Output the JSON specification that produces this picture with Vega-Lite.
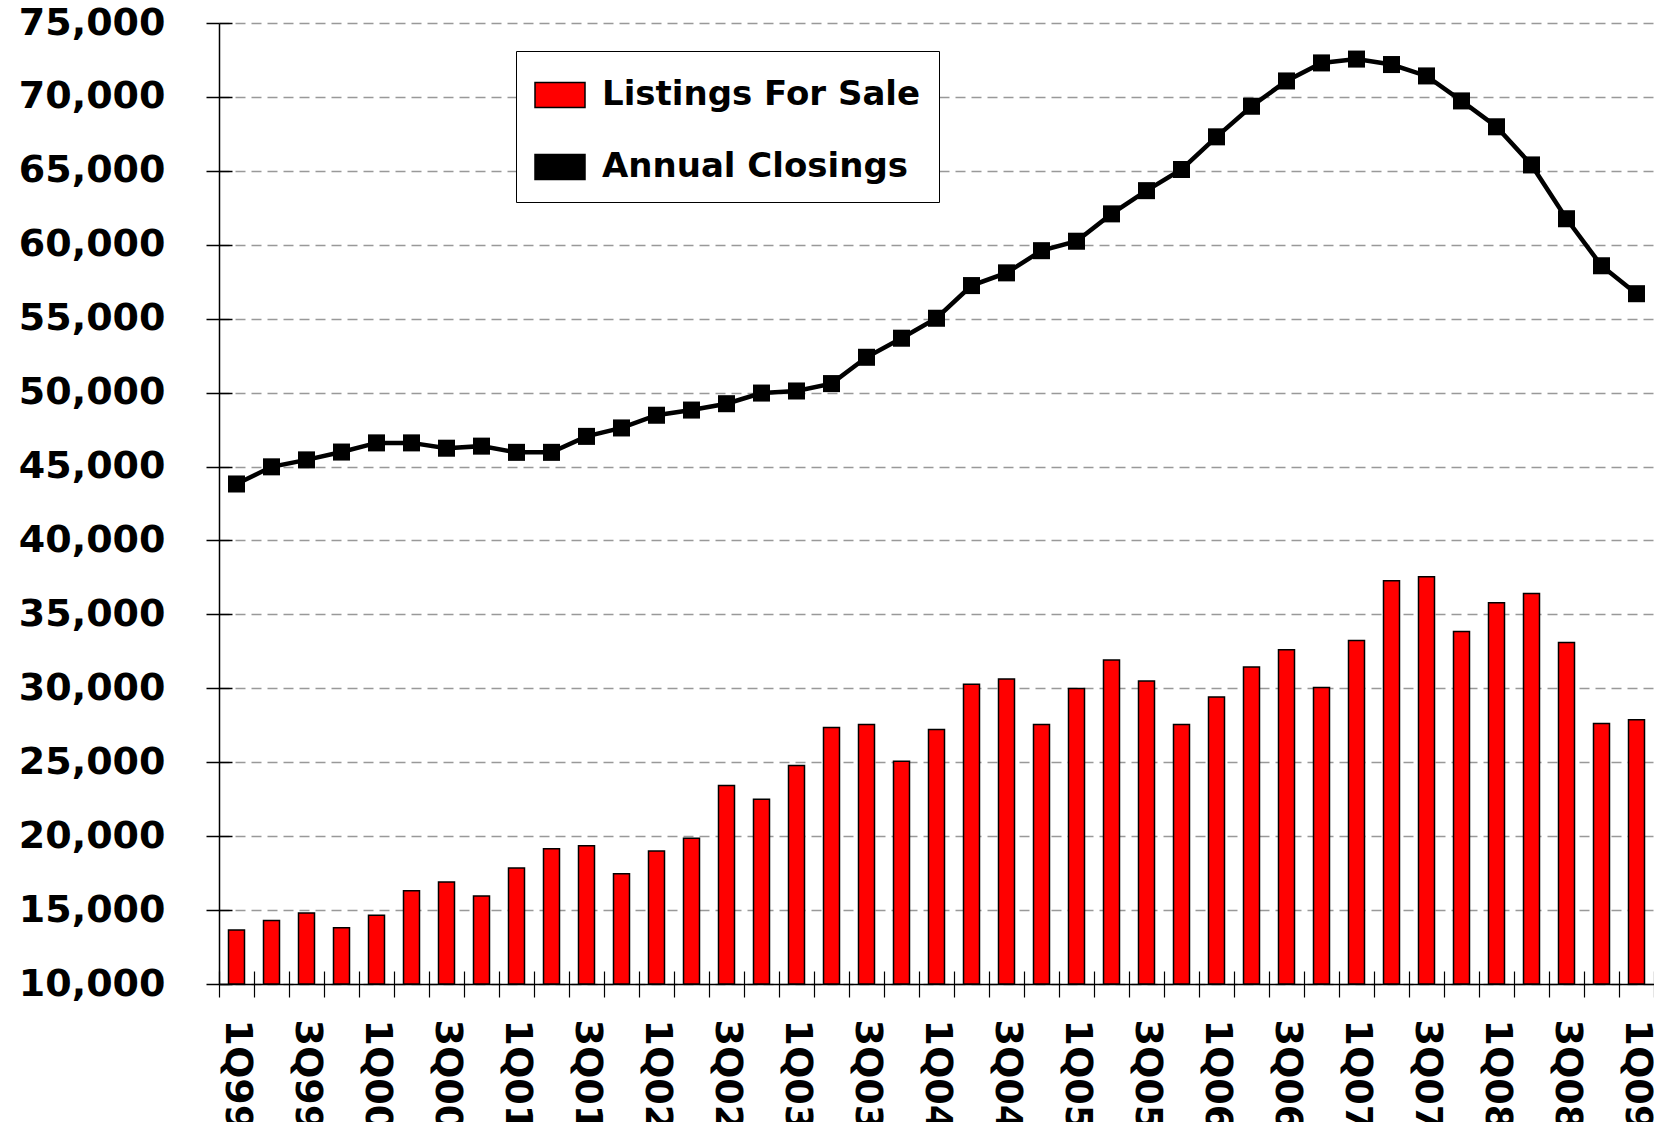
{
  "$schema": "https://vega.github.io/schema/vega-lite/v6.json",
  "autosize": {"type": "none"},
  "padding": {"left": 219, "top": 23, "right": 0, "bottom": 138},
  "width": 1435,
  "height": 961,
  "background": "white",
  "config": {
    "view": {"stroke": null},
    "font": "DejaVu Sans"
  },
  "data": {
    "values": [
      {"q": "1Q99", "listings": 13650, "closings": 43820},
      {"q": "2Q99", "listings": 14300, "closings": 44980},
      {"q": "3Q99", "listings": 14800, "closings": 45450},
      {"q": "4Q99", "listings": 13800, "closings": 45980},
      {"q": "1Q00", "listings": 14650, "closings": 46600},
      {"q": "2Q00", "listings": 16300, "closings": 46600},
      {"q": "3Q00", "listings": 16900, "closings": 46240},
      {"q": "4Q00", "listings": 15950, "closings": 46380},
      {"q": "1Q01", "listings": 17850, "closings": 45960},
      {"q": "2Q01", "listings": 19150, "closings": 45960},
      {"q": "3Q01", "listings": 19350, "closings": 47040},
      {"q": "4Q01", "listings": 17450, "closings": 47610},
      {"q": "1Q02", "listings": 19000, "closings": 48470},
      {"q": "2Q02", "listings": 19850, "closings": 48820},
      {"q": "3Q02", "listings": 23430, "closings": 49250},
      {"q": "4Q02", "listings": 22500, "closings": 49970},
      {"q": "1Q03", "listings": 24780, "closings": 50110},
      {"q": "2Q03", "listings": 27350, "closings": 50610},
      {"q": "3Q03", "listings": 27560, "closings": 52390},
      {"q": "4Q03", "listings": 25070, "closings": 53680},
      {"q": "1Q04", "listings": 27210, "closings": 55030},
      {"q": "2Q04", "listings": 30280, "closings": 57240},
      {"q": "3Q04", "listings": 30630, "closings": 58100},
      {"q": "4Q04", "listings": 27560, "closings": 59600},
      {"q": "1Q05", "listings": 29990, "closings": 60240},
      {"q": "2Q05", "listings": 31920, "closings": 62090},
      {"q": "3Q05", "listings": 30490, "closings": 63660},
      {"q": "4Q05", "listings": 27560, "closings": 65090},
      {"q": "1Q06", "listings": 29420, "closings": 67300},
      {"q": "2Q06", "listings": 31440, "closings": 69370},
      {"q": "3Q06", "listings": 32600, "closings": 71080},
      {"q": "4Q06", "listings": 30060, "closings": 72300},
      {"q": "1Q07", "listings": 33240, "closings": 72560},
      {"q": "2Q07", "listings": 37280, "closings": 72190},
      {"q": "3Q07", "listings": 37550, "closings": 71420},
      {"q": "4Q07", "listings": 33850, "closings": 69730},
      {"q": "1Q08", "listings": 35790, "closings": 67980},
      {"q": "2Q08", "listings": 36420, "closings": 65400},
      {"q": "3Q08", "listings": 33100, "closings": 61760},
      {"q": "4Q08", "listings": 27620, "closings": 58580},
      {"q": "1Q09", "listings": 27870, "closings": 56690}
    ]
  },
  "layer": [
    {
      "mark": {"type": "bar", "width": 16, "stroke": "black", "strokeWidth": 1.5},
      "encoding": {
        "x": {
          "field": "q", "type": "ordinal", "sort": null,
          "scale": {"paddingInner": 0, "paddingOuter": 0},
          "axis": {
            "orient": "bottom", "title": null, "labelAngle": 90,
            "labelExpr": "(indexof(datum.label, '2Q') == 0 || indexof(datum.label, '4Q') == 0) ? '' : datum.label",
            "tickBand": "extent", "tickSize": 13, "tickColor": "black", "tickWidth": 1.2,
            "domainColor": "black", "domainWidth": 1.5,
            "labelFont": "DejaVu Sans", "labelFontWeight": "bold", "labelFontSize": 38,
            "labelColor": "black", "labelPadding": 22, "labelOverlap": false, "grid": false
          }
        },
        "y": {
          "field": "listings", "type": "quantitative",
          "scale": {"domain": [10000, 75000], "nice": false, "zero": false},
          "axis": {
            "orient": "left", "title": null, "format": ",.0f",
            "values": [10000, 15000, 20000, 25000, 30000, 35000, 40000, 45000, 50000, 55000, 60000, 65000, 70000, 75000],
            "tickSize": 13, "tickColor": "black", "tickWidth": 1.5,
            "domainColor": "black", "domainWidth": 1.5,
            "labelFont": "DejaVu Sans", "labelFontWeight": "bold", "labelFontSize": 38,
            "labelColor": "black", "labelPadding": 41,
            "grid": true, "gridColor": "#999999", "gridDash": [10, 6], "gridWidth": 1.5
          }
        },
        "y2": {"datum": 10000},
        "color": {
          "datum": "Listings For Sale",
          "scale": {"domain": ["Listings For Sale", "Annual Closings"], "range": ["#FF0000", "#000000"]},
          "legend": {
            "title": null, "orient": "none", "legendX": 297, "legendY": 28,
            "padding": 18, "fillColor": "white", "strokeColor": "black",
            "cornerRadius": 0, "rowPadding": 29, "labelOffset": 16, "symbolSize": 2500,
            "symbolType": "M-1,-0.5L1,-0.5L1,0.5L-1,0.5Z",
            "symbolOpacity": 1,
            "labelFont": "DejaVu Sans", "labelFontWeight": "bold", "labelFontSize": 34,
            "labelColor": "black", "labelLimit": 0,
            "encode": {
              "symbols": {
                "stroke": {"value": "#000000"},
                "strokeWidth": {
                  "condition": {"test": "datum.value == 'Annual Closings'", "value": 0},
                  "value": 1.5
                }
              }
            }
          }
        }
      }
    },
    {
      "mark": {"type": "line", "color": "black", "strokeWidth": 4.5, "point": {"shape": "square", "size": 290, "filled": true, "color": "black"}},
      "encoding": {
        "x": {
          "field": "q", "type": "ordinal", "sort": null,
          "axis": {
            "orient": "bottom", "title": null, "labels": false, "domain": false, "grid": false,
            "tickBand": "extent", "tickSize": -13, "tickColor": "black", "tickWidth": 1.2
          }
        },
        "y": {
          "field": "closings", "type": "quantitative",
          "axis": {
            "orient": "left", "title": null, "labels": false, "domain": false, "grid": false,
            "values": [10000, 15000, 20000, 25000, 30000, 35000, 40000, 45000, 50000, 55000, 60000, 65000, 70000, 75000],
            "tickSize": -13, "tickColor": "black", "tickWidth": 1.5
          }
        }
      }
    }
  ],
  "resolve": {"axis": {"x": "independent", "y": "independent"}}
}
